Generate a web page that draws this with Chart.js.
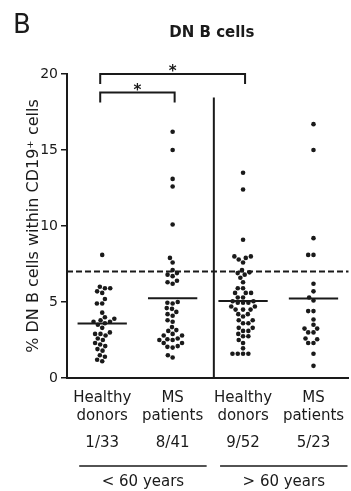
<!DOCTYPE html>
<html>
<head>
<meta charset="utf-8">
<script src="https://cdn.jsdelivr.net/npm/chart.js@4.4.1/dist/chart.umd.min.js"></script>
<style>
  body { margin: 0; background: #fff; }
</style>
</head>
<body>
<canvas id="dnChart" width="351" height="491"></canvas>
<script>
// column labels and the age brackets under them
const groupLabels = [["Healthy", "donors"], ["MS", "patients"], ["Healthy", "donors"], ["MS", "patients"]];
const ageLabels = ["< 60 years", "> 60 years"];
const ageGroups = [[0, 1], [2, 3]];
const yTicks = [0, 5, 10, 15, 20];
const cutoff = 7;

// % DN B cells within CD19+ cells, one value per dot
const healthyUnder60 = [8.1, 6.0, 5.9, 5.9, 5.7, 5.6, 5.2, 4.9, 4.9, 4.3, 4.0, 3.9, 3.8, 3.7, 3.7, 3.6,
    3.5, 3.3, 3.0, 2.9, 2.9, 2.8, 2.6, 2.5, 2.3, 2.2, 2.1, 1.9, 1.8, 1.5, 1.4, 1.2, 1.1];
const msUnder60 = [16.2, 15.0, 13.1, 12.6, 10.1, 7.9, 7.6, 7.1, 6.9, 6.8, 6.7, 6.4, 6.3, 6.2, 5.0, 4.95,
    4.9, 4.6, 4.55, 4.35, 4.2, 4.1, 3.8, 3.7, 3.35, 3.15, 3.1, 2.9, 2.8, 2.8, 2.6, 2.55, 2.5, 2.5, 2.3,
    2.3, 2.1, 2.05, 2.0, 1.5, 1.35];
const healthyOver60 = [13.5, 12.4, 9.1, 8.0, 8.0, 7.9, 7.8, 7.6, 7.1, 6.95, 6.9, 6.8, 6.6, 6.3, 5.9, 5.9,
    5.6, 5.6, 5.6, 5.3, 5.3, 5.05, 5.05, 4.95, 4.95, 4.95, 4.7, 4.7, 4.5, 4.5, 4.5, 4.2, 4.2, 4.05, 3.8,
    3.8, 3.6, 3.6, 3.3, 3.3, 3.1, 3.1, 2.9, 2.75, 2.75, 2.5, 2.3, 1.95, 1.6, 1.6, 1.6, 1.6];
const msOver60 = [16.7, 15.0, 9.2, 8.1, 8.1, 6.2, 5.7, 5.3, 5.1, 4.4, 4.4, 3.85, 3.5, 3.25, 3.25, 3.0,
    3.0, 2.6, 2.55, 2.3, 2.3, 1.6, 0.8];
const groupValues = [healthyUnder60, msUnder60, healthyOver60, msOver60];

// significance brackets: [first group, last group, label]
const comparisons = [[0, 2, "*"], [0, 1, "*"]];

const ink = "#1a1a1a";
const font = '"DejaVu Sans", sans-serif';
const bracketLevels = [20, 18.78];
const dividerAt = 2.585;

function mean(vals) {
    return vals.reduce((s, v) => s + v, 0) / vals.length;
}

// simple beeswarm: each dot goes to the free spot nearest the column centre
function swarm(values, yScale, gap) {
    const placed = [];
    const offsets = new Array(values.length).fill(0);
    const order = values.map((v, i) => i).sort((a, b) => values[a] - values[b]);
    order.forEach(i => {
        const py = yScale.getPixelForValue(values[i]);
        const near = placed.filter(p => Math.abs(p.y - py) < gap);
        const candidates = [0];
        near.forEach(p => {
            const dx = Math.sqrt(gap * gap - (p.y - py) ** 2);
            candidates.push(p.x - dx, p.x + dx);
        });
        candidates.sort((a, b) => Math.abs(a) - Math.abs(b));
        const x = candidates.find(c => near.every(p => Math.hypot(p.x - c, p.y - py) >= gap - 0.01));
        placed.push({ x, y: py });
        offsets[i] = x;
    });
    return offsets;
}

const dotSets = groupValues.map((vals, g) => ({
    type: "scatter",
    data: vals.map(v => ({ x: g + 1, y: v })),
    pointRadius: 2.3,
    pointHoverRadius: 2.3,
    pointBackgroundColor: ink,
    pointBorderWidth: 0,
    order: 2
}));

const meanSets = groupValues.map((vals, g) => ({
    type: "line",
    data: [{ x: g + 1 - 0.35, y: mean(vals) }, { x: g + 1 + 0.35, y: mean(vals) }],
    borderColor: ink,
    borderWidth: 2,
    pointRadius: 0,
    order: 1
}));

const cutoffSet = {
    type: "line",
    data: [{ x: 0.5, y: cutoff }, { x: 4.5, y: cutoff }],
    borderColor: ink,
    borderWidth: 2,
    borderDash: [6, 3],
    pointRadius: 0,
    order: 1
};

const dividerSet = {
    type: "line",
    data: [{ x: dividerAt, y: 0 }, { x: dividerAt, y: 18.45 }],
    borderColor: ink,
    borderWidth: 2,
    pointRadius: 0,
    order: 1
};

const extras = {
    id: "extras",
    afterDraw(chart) {
        const { ctx, chartArea, scales: { x, y } } = chart;
        ctx.save();
        ctx.fillStyle = ink;
        ctx.strokeStyle = ink;

        ctx.font = "26px " + font;
        ctx.textAlign = "left";
        ctx.textBaseline = "alphabetic";
        ctx.fillText("B", 13, 33);

        ctx.font = "bold 15px " + font;
        ctx.textAlign = "center";
        ctx.fillText("DN B cells", (chartArea.left + chartArea.right) / 2 + 4, 37);

        // brackets with stars
        ctx.lineWidth = 2;
        comparisons.forEach(([a, b, label], k) => {
            const x0 = x.getPixelForValue(a + 1) - 2;
            const x1 = x.getPixelForValue(b + 1) + 2;
            const by = y.getPixelForValue(bracketLevels[k]);
            ctx.beginPath();
            ctx.moveTo(x0, by + 10);
            ctx.lineTo(x0, by);
            ctx.lineTo(x1, by);
            ctx.lineTo(x1, by + 10);
            ctx.stroke();
            ctx.font = "bold 15px " + font;
            ctx.fillText(label, (x0 + x1) / 2, by + 2);
        });

        // n above cutoff / n total
        ctx.font = "15px " + font;
        groupValues.forEach((vals, g) => {
            const above = vals.filter(v => v > cutoff).length;
            ctx.fillText(`${above}/${vals.length}`, x.getPixelForValue(g + 1), 447);
        });

        // age group lines
        ctx.lineWidth = 1.6;
        ageGroups.forEach(([a, b], k) => {
            const x0 = x.getPixelForValue(a + 1) - 23;
            const x1 = x.getPixelForValue(b + 1) + 34;
            ctx.beginPath();
            ctx.moveTo(x0, 466);
            ctx.lineTo(x1, 466);
            ctx.stroke();
            ctx.fillText(ageLabels[k], (x0 + x1) / 2, 486);
        });
        ctx.restore();
    }
};

const chart = new Chart(document.getElementById("dnChart"), {
    data: { datasets: [...dotSets, ...meanSets, cutoffSet, dividerSet] },
    options: {
        responsive: false,
        animation: false,
        layout: { padding: { top: 74, left: 0, right: 0, bottom: 0 } },
        plugins: { legend: { display: false }, tooltip: { enabled: false } },
        scales: {
            x: {
                type: "linear",
                min: 0.5,
                max: 4.5,
                afterBuildTicks: s => { s.ticks = groupLabels.map((l, i) => ({ value: i + 1 })); },
                afterFit: s => {
                    s.height = 113;
                    s.paddingLeft = 0;
                    s.paddingRight = 0;
                },
                grid: { display: false },
                border: { display: true, color: ink, width: 2 },
                ticks: {
                    autoSkip: false,
                    maxRotation: 0,
                    padding: 3,
                    color: ink,
                    font: { family: font, size: 15, lineHeight: 1.2 },
                    callback: v => groupLabels[v - 1]
                }
            },
            y: {
                min: 0,
                max: 20,
                afterBuildTicks: s => { s.ticks = yTicks.map(v => ({ value: v })); },
                afterFit: s => { s.width = 67; },
                grid: { drawOnChartArea: false, tickLength: 6, color: ink, lineWidth: 1.5 },
                border: { display: true, color: ink, width: 2 },
                ticks: { padding: 3, color: ink, font: { family: font, size: 14 } },
                title: {
                    display: true,
                    text: "% DN B cells within CD19\u207A cells",
                    color: ink,
                    font: { family: font, size: 16 },
                    padding: { top: 24, bottom: 0 }
                }
            }
        }
    },
    plugins: [extras]
});

// spread the dots sideways now that the scales know their pixels
const unit = chart.scales.x.getPixelForValue(1) - chart.scales.x.getPixelForValue(0);
groupValues.forEach((vals, g) => {
    const offs = swarm(vals, chart.scales.y, 5.3);
    chart.data.datasets[g].data = vals.map((v, i) => ({ x: g + 1 + offs[i] / unit, y: v }));
});
chart.update("none");
</script>
</body>
</html>
